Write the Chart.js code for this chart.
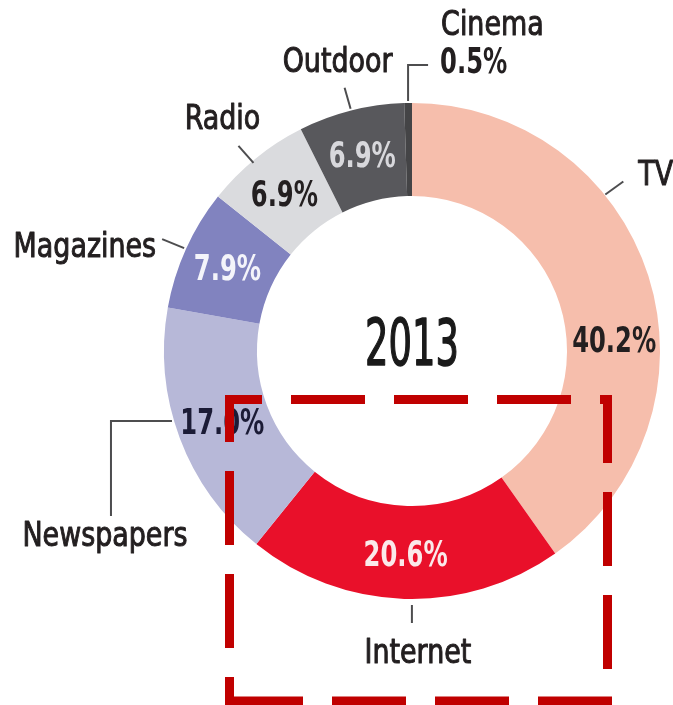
<!DOCTYPE html>
<html>
<head>
<meta charset="utf-8">
<title>Media share 2013</title>
<script src="https://cdn.jsdelivr.net/npm/chart.js@4.4.1/dist/chart.umd.min.js"></script>
<style>
  html, body { margin: 0; padding: 0; background: #fff; }
  canvas { display: block; }
</style>
</head>
<body>
<canvas id="share-chart" width="673" height="705"></canvas>
<script>
const year = '2013';
const media = ['TV', 'Internet', 'Newspapers', 'Magazines', 'Radio', 'Outdoor', 'Cinema'];
const share = [40.2, 20.6, 17.0, 7.9, 6.9, 6.9, 0.5];
const sliceColors = ['#f6beac', '#e9102a', '#b7b8d8', '#8183bf', '#dadbde', '#58585c', '#444446'];
const valueColors = ['#231f20', '#fbe9ea', '#1b1b36', '#f4f4fa', '#231f20', '#d8d8dc', null];

const FONT = '"Liberation Sans Narrow", "DejaVu Sans Condensed", "Liberation Sans", sans-serif';
// horizontal squeeze to get the narrow poster lettering
const NAME_SX = 0.88;
const VALUE_SX = 0.77;
const YEAR_SX = 0.64;

// callout per slice: `at` = fraction along the arc, leader points and text
// are offsets (px) from the point on the outer edge
const callouts = [
  { at: 0.35, path: [[0, 2], [18, -11]], text: [33, -7], align: 'left', valueAt: 0.6 },
  { at: 0.476, path: [[0, 4], [0, 22]], text: [6, 62], align: 'center' },
  { at: 0.57, path: [[0, 0], [-61, 0], [-61, 95]], text: [-67, 125], align: 'center' },
  { at: 0.5, path: [[0, 0], [-22, -9]], text: [-28, 9], align: 'right' },
  { at: 0.5, path: [[-1, 6], [-16, -11]], text: [-32, -28], align: 'center' },
  { at: 0.5, path: [[0, 0], [-6, -21]], text: [-13, -37], align: 'center' },
  { at: 0.5, path: [[0, 0], [0, -36], [20, -36]], text: [33, -66], align: 'left', value: [32, -28] },
];

function pointAt(arc, frac, r) {
  const a = arc.startAngle + (arc.endAngle - arc.startAngle) * frac;
  return { x: arc.x + Math.cos(a) * r, y: arc.y + Math.sin(a) * r };
}

function fmt(v) {
  return v.toFixed(1) + '%';
}

// narrow text; `weight` > 0 adds an outline in the fill colour to darken it
function squeezedText(ctx, text, x, y, align, sx, weight) {
  ctx.save();
  ctx.translate(x, y);
  ctx.scale(sx, 1);
  ctx.textAlign = align;
  ctx.textBaseline = 'alphabetic';
  ctx.fillText(text, 0, 0);
  if (weight) {
    ctx.setLineDash([]);
    ctx.lineJoin = 'round';
    ctx.lineWidth = weight;
    ctx.strokeStyle = ctx.fillStyle;
    ctx.strokeText(text, 0, 0);
  }
  ctx.restore();
}

function dashedSide(ctx, x1, y1, x2, y2, offset) {
  ctx.setLineDash([74, 29]);
  ctx.lineDashOffset = offset;
  ctx.beginPath();
  ctx.moveTo(x1, y1);
  ctx.lineTo(x2, y2);
  ctx.stroke();
}

const labelPlugin = {
  id: 'sliceLabels',
  afterDraw(chart) {
    const ctx = chart.ctx;
    const arcs = chart.getDatasetMeta(0).data;
    ctx.save();

    arcs.forEach((arc, i) => {
      const c = callouts[i];
      const mid = (arc.innerRadius + arc.outerRadius) / 2 + 1;

      // value inside the ring
      if (valueColors[i]) {
        const p = pointAt(arc, c.valueAt ?? 0.5, mid);
        ctx.font = 'bold 35px ' + FONT;
        ctx.fillStyle = valueColors[i];
        squeezedText(ctx, fmt(share[i]), p.x, p.y + 12.5, 'center', VALUE_SX);
      }

      // leader line
      const o = pointAt(arc, c.at, arc.outerRadius + 2);
      ctx.setLineDash([]);
      ctx.strokeStyle = '#4d4d4f';
      ctx.lineWidth = 2;
      ctx.beginPath();
      c.path.forEach(([dx, dy], k) => {
        if (k === 0) ctx.moveTo(o.x + dx, o.y + dy);
        else ctx.lineTo(o.x + dx, o.y + dy);
      });
      ctx.stroke();

      // category name
      ctx.font = '34px ' + FONT;
      ctx.fillStyle = '#231f20';
      squeezedText(ctx, media[i], o.x + c.text[0], o.y + c.text[1], c.align, NAME_SX, 1);

      // slices too thin to hold their value get it beside the name
      if (c.value) {
        ctx.font = 'bold 35px ' + FONT;
        squeezedText(ctx, fmt(share[i]), o.x + c.value[0], o.y + c.value[1], 'left', VALUE_SX);
      }
    });

    // year in the hole
    ctx.font = '64px ' + FONT;
    ctx.fillStyle = '#1a1a1a';
    squeezedText(ctx, year, arcs[0].x, arcs[0].y + 14, 'center', YEAR_SX, 1.5);

    // dashed highlight frame
    ctx.strokeStyle = '#c00000';
    ctx.lineWidth = 9;
    ctx.lineCap = 'butt';
    dashedSide(ctx, 225, 399.5, 612, 399.5, 37);
    dashedSide(ctx, 607.5, 395, 607.5, 705, 6);
    dashedSide(ctx, 612, 701, 225, 701, 0);
    dashedSide(ctx, 229.5, 705, 229.5, 395, 46);

    ctx.restore();
  },
};

new Chart(document.getElementById('share-chart'), {
  type: 'doughnut',
  data: {
    labels: media,
    datasets: [{
      data: share,
      backgroundColor: sliceColors,
      borderWidth: 0,
    }],
  },
  options: {
    responsive: false,
    animation: false,
    devicePixelRatio: 1,
    cutout: '62.5%',
    layout: { padding: { left: 164, right: 13, top: 103, bottom: 106 } },
    plugins: {
      legend: { display: false },
      tooltip: { enabled: false },
    },
  },
  plugins: [labelPlugin],
});
</script>
</body>
</html>
